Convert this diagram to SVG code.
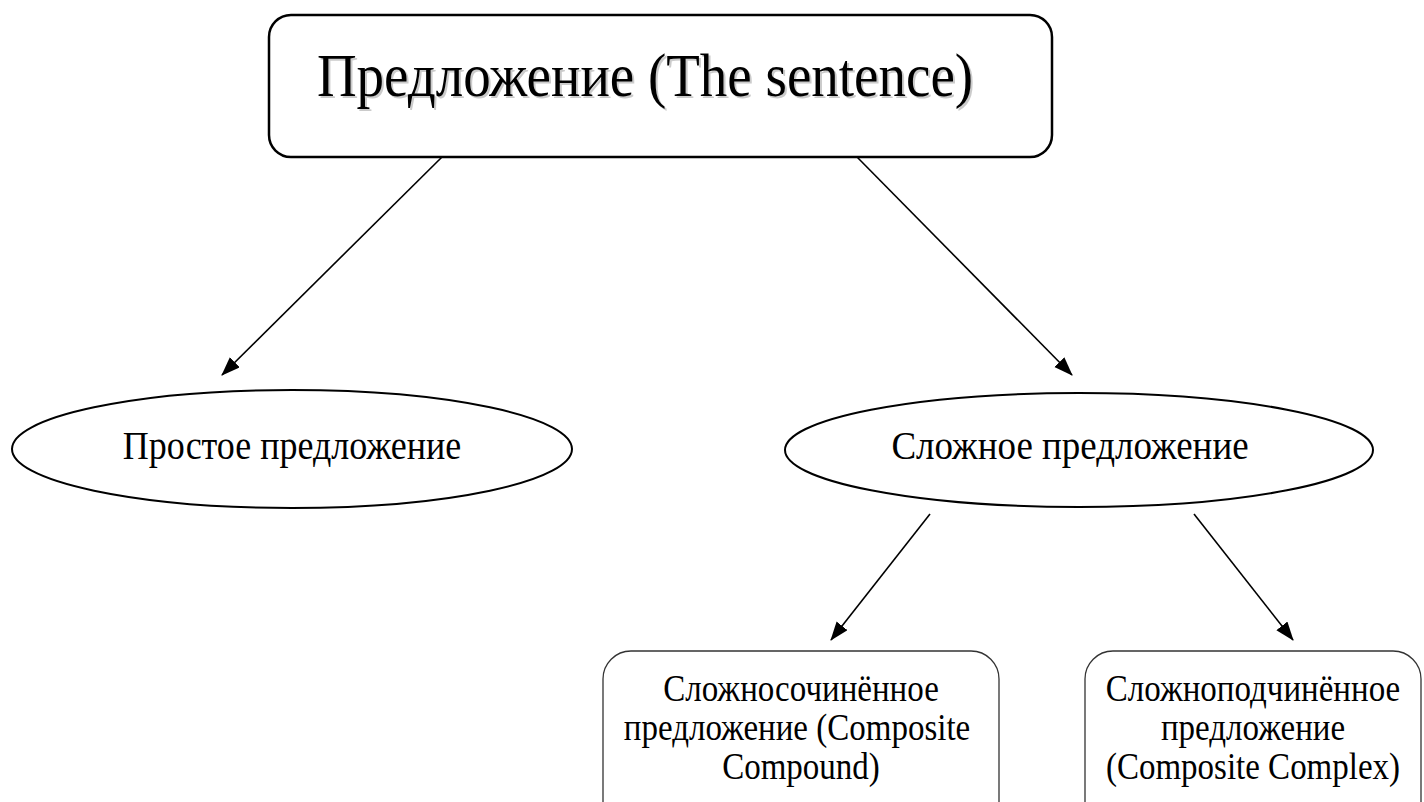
<svg xmlns="http://www.w3.org/2000/svg" width="1424" height="802" viewBox="0 0 1424 802">
<defs>
<style>
.t{font-family:"Liberation Serif","Times New Roman",serif;fill:#000;text-anchor:middle}
.b{font-size:33px}
.c{stroke:#000;stroke-width:1.6;fill:none;marker-end:url(#ah)}
</style>
<marker id="ah" markerWidth="20" markerHeight="16" refX="18" refY="7" orient="auto" markerUnits="userSpaceOnUse">
<path d="M0,0 L19,7 L0,14 Z" fill="#000"/>
</marker>
</defs>
<rect width="1424" height="802" fill="#fff"/>
<g id="connectors">
<line class="c" x1="442" y1="157" x2="222" y2="375"/>
<line class="c" x1="857" y1="157" x2="1072" y2="375"/>
<line class="c" x1="930" y1="514" x2="831" y2="640"/>
<line class="c" x1="1194" y1="514" x2="1293" y2="640"/>
</g>
<g id="root">
<rect x="269" y="15" width="783" height="142" rx="22" ry="22" fill="#fff" stroke="#000" stroke-width="2.5"/>
<text class="t" transform="translate(647,98) scale(1,1.12)" font-size="55" style="fill:#aaa" opacity="0.6">Предложение (The sentence)</text>
<text class="t" transform="translate(645,96) scale(1,1.12)" font-size="55">Предложение (The sentence)</text>
</g>
<g id="simple">
<ellipse cx="292" cy="449" rx="280" ry="59" fill="#fff" stroke="#000" stroke-width="2"/>
<text class="t" transform="translate(292,459) scale(1,1.1)" font-size="36">Простое предложение</text>
</g>
<g id="complex">
<ellipse cx="1079" cy="450" rx="294" ry="57" fill="#fff" stroke="#000" stroke-width="2"/>
<text class="t" transform="translate(1070,459) scale(1,1.1)" font-size="37">Сложное предложение</text>
</g>
<g id="compound">
<rect x="603" y="651" width="396" height="180" rx="28" ry="28" fill="#fff" stroke="#333" stroke-width="1.3"/>
<text class="t b" transform="translate(801,701) scale(1,1.15)">Сложносочинённое</text>
<text class="t b" transform="translate(797,740) scale(1,1.15)">предложение (Composite</text>
<text class="t b" transform="translate(801,779) scale(1,1.15)">Compound)</text>
</g>
<g id="subordinate">
<rect x="1085" y="651" width="336" height="180" rx="28" ry="28" fill="#fff" stroke="#333" stroke-width="1.3"/>
<text class="t b" transform="translate(1253,701) scale(1,1.15)">Сложноподчинённое</text>
<text class="t b" transform="translate(1253,740) scale(1,1.15)">предложение</text>
<text class="t b" transform="translate(1253,779) scale(1,1.15)">(Composite Complex)</text>
</g>
</svg>
